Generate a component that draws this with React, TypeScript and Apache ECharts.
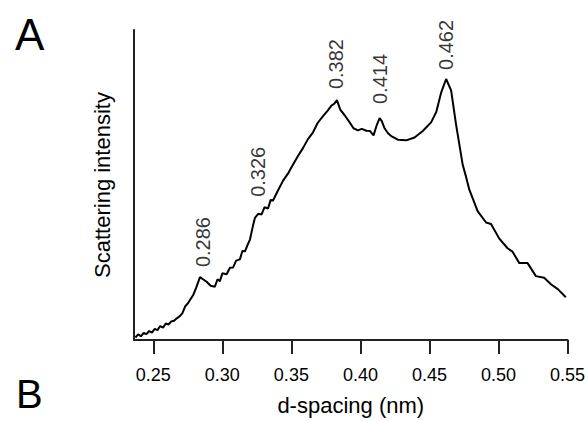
import React, { useEffect, useRef } from "react";
import * as echarts from "echarts";

const dSpacing = [
  0.237, 0.239, 0.241, 0.243, 0.245, 0.247, 0.249, 0.251, 0.253, 0.255, 0.257, 0.259, 0.261, 0.263,
  0.265, 0.267, 0.269, 0.271, 0.273, 0.275, 0.277, 0.279, 0.281, 0.2838, 0.286, 0.2886, 0.2915,
  0.2946, 0.2965, 0.2982, 0.3, 0.3031, 0.3055, 0.3078, 0.31, 0.3127, 0.3145, 0.3164, 0.318, 0.32,
  0.322, 0.3236, 0.326, 0.3284, 0.3305, 0.3331, 0.335, 0.3367, 0.34, 0.344, 0.348, 0.3512, 0.355,
  0.3584, 0.362, 0.3657, 0.369, 0.3729, 0.376, 0.379, 0.381, 0.383, 0.3855, 0.3886, 0.3922, 0.395,
  0.3982, 0.401, 0.4043, 0.407, 0.4095, 0.412, 0.4139, 0.4155, 0.4175, 0.42, 0.4223, 0.4271, 0.4332,
  0.4392, 0.4452, 0.4512, 0.4549, 0.4585, 0.4621, 0.4657, 0.4693, 0.4741, 0.4765, 0.4789, 0.4849,
  0.491, 0.4946, 0.5006, 0.5066, 0.5102, 0.5151, 0.5211, 0.5271, 0.5331, 0.538, 0.543, 0.5488,
];

const intensity = [
  0.8, 1.8, 1.2, 2.3, 1.9, 2.9, 2.4, 3.6, 3.2, 4.5, 4.0, 5.3, 5.0, 6.0,
  6.2, 7.0, 7.6, 8.6, 10.8, 11.8, 13.2, 14.6, 16.8, 20.3, 19.6, 18.8, 17.5,
  17.2, 19.6, 19.0, 21.5, 21.2, 23.3, 23.4, 25.6, 26.0, 28.7, 28.6, 30.4, 32.4,
  36.5, 39.4, 40.7, 40.5, 42.8, 42.4, 45.2, 45.0, 48.0, 51.4, 54.0, 56.6, 59.5,
  61.9, 64.8, 67.0, 70.0, 72.2, 73.8, 75.6, 76.2, 77.4, 74.2, 72.5, 70.2, 68.3,
  67.6, 68.1, 67.5, 67.4, 66.0, 69.5, 71.6, 70.6, 68.3, 66.7, 65.8, 64.6, 64.4,
  65.3, 67.4, 70.2, 73.5, 79.8, 84.2, 80.5, 69.5, 56.5, 52.7, 48.5, 41.6,
  37.9, 37.4, 32.7, 29.6, 28.5, 24.8, 24.8, 20.6, 20.1, 18.0, 16.4, 13.8,
];

const peakPositions = [0.286, 0.326, 0.382, 0.414, 0.462];
const peakHeights = [20.3, 40.7, 77.4, 71.6, 84.2];
const peakLabelGaps = [10, 17, 11, 14, 9];

const xTicks = [0.25, 0.3, 0.35, 0.4, 0.45, 0.5, 0.55];

const FONT = "'Liberation Sans', Arial, sans-serif";

export default function App() {
  const ref = useRef<HTMLDivElement>(null);
  useEffect(() => {
    if (!ref.current) return;
    const chart = echarts.init(ref.current, undefined, { renderer: "svg" });
    const lineData = dSpacing.map((d, i) => [d, intensity[i]]);
    const peakData = peakPositions.map((d, i) => ({
      value: [d, peakHeights[i]],
      name: d.toFixed(3),
      label: { distance: peakLabelGaps[i] },
    }));
    chart.setOption({
      animation: false,
      backgroundColor: "#ffffff",
      grid: { left: 134, right: 20, top: 30, bottom: 74, containLabel: false },
      xAxis: {
        type: "value",
        min: 0.236,
        max: 0.55,
        name: "d-spacing (nm)",
        nameLocation: "middle",
        nameGap: 54,
        nameTextStyle: { fontFamily: FONT, fontSize: 22, color: "#000" },
        axisLine: { show: true, lineStyle: { color: "#222", width: 2 } },
        axisTick: {
          show: true,
          length: 14,
          customValues: xTicks,
          lineStyle: { color: "#222", width: 2 },
        },
        axisLabel: {
          customValues: xTicks,
          margin: 26,
          fontFamily: FONT,
          fontSize: 18,
          color: "#000",
          formatter: (v: number) => v.toFixed(2),
        },
        splitLine: { show: false },
      },
      yAxis: {
        type: "value",
        min: 0,
        max: 100,
        name: "Scattering intensity",
        nameLocation: "middle",
        nameGap: 21,
        nameRotate: 90,
        nameTextStyle: { fontFamily: FONT, fontSize: 22, color: "#000" },
        axisLine: { show: true, lineStyle: { color: "#222", width: 2 } },
        axisTick: { show: false },
        axisLabel: { show: false },
        splitLine: { show: false },
      },
      graphic: [
        {
          type: "text",
          left: 15,
          top: 12,
          style: { text: "A", fontFamily: FONT, fontSize: 44, fill: "#000" },
        },
        {
          type: "text",
          left: 16,
          top: 374,
          style: { text: "B", fontFamily: FONT, fontSize: 40, fill: "#000" },
        },
      ],
      series: [
        {
          type: "line",
          data: lineData,
          showSymbol: false,
          smooth: false,
          lineStyle: { color: "#000", width: 2 },
          z: 3,
        },
        {
          type: "scatter",
          data: peakData,
          symbolSize: 0,
          z: 4,
          label: {
            show: true,
            position: "top",
            rotate: 90,
            align: "left",
            verticalAlign: "middle",
            formatter: (p: any) => p.name,
            fontFamily: FONT,
            fontSize: 20,
            color: "#000",
          },
        },
      ],
    });
    return () => chart.dispose();
  }, []);
  return (
    <div
      ref={ref}
      style={{ position: "fixed", left: 0, top: 0, width: 588, height: 421 }}
    />
  );
}
